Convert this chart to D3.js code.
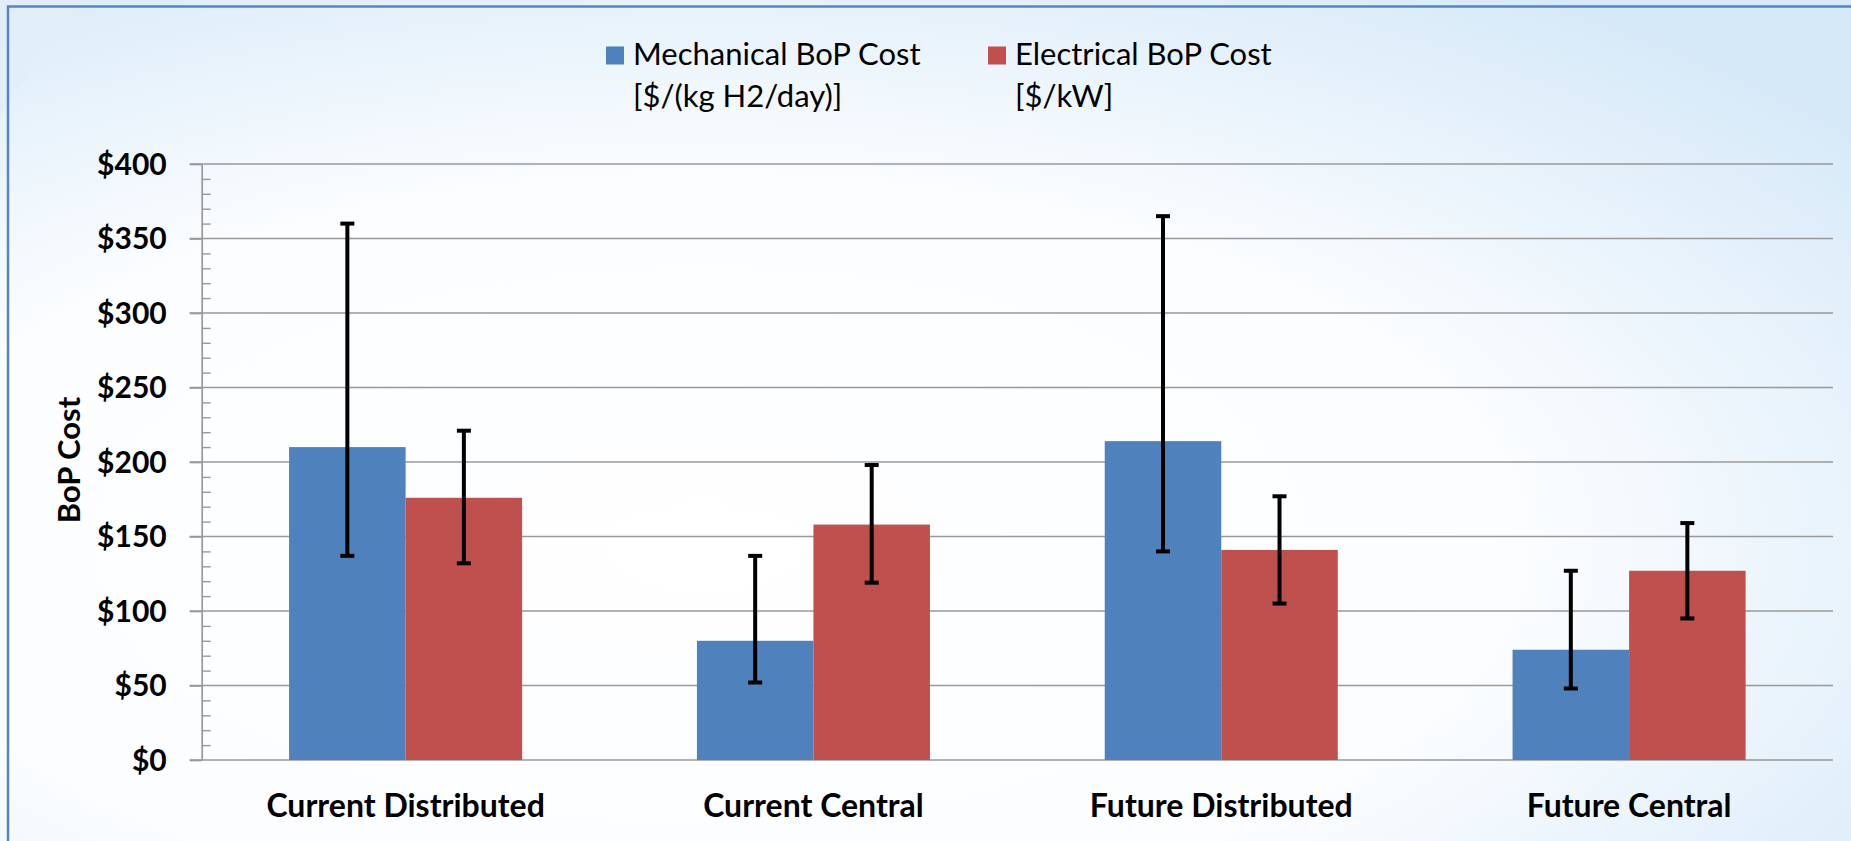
<!DOCTYPE html>
<html>
<head>
<meta charset="utf-8">
<script src="https://cdn.jsdelivr.net/npm/d3@7"></script>
<style>
  html, body { margin: 0; padding: 0; overflow: hidden; background: #ffffff; }
  svg { display: block; }
</style>
</head>
<body>
<div id="main"></div>
<script>
// chart values
var categories = ["Current Distributed", "Current Central", "Future Distributed", "Future Central"];
var seriesNames = ["Mechanical BoP Cost", "Electrical BoP Cost"];
var seriesUnits = ["[$/(kg H2/day)]", "[$/kW]"];
var mechanical = [210, 80, 214, 74];
var mechLow = [137, 52, 140, 48];
var mechHigh = [360, 137, 365, 127];
var electrical = [176, 158, 141, 127];
var elecLow = [132, 119, 105, 95];
var elecHigh = [221, 198, 177, 159];
var yTicks = [0, 50, 100, 150, 200, 250, 300, 350, 400];
var yMinorTicks = d3.range(0, 401, 10).filter(v => v % 50 != 0);

var ctx = {
    w: 1851,
    h: 841,
    left: 201.7,
    right: 1833,
    top: 164,
    bottom: 760,
    BLUE: "#4F81BD",
    RED: "#C0504D",
    GRID: "#999999",
    font: "Lato, 'Open Sans', sans-serif"
};

var buildRows = function(){
    // one row per category, one entry per series
    return categories.map(function(c, i){
        return {
            cat: c,
            bars: [
                {s: 0, v: mechanical[i], lo: mechLow[i], hi: mechHigh[i]},
                {s: 1, v: electrical[i], lo: elecLow[i], hi: elecHigh[i]}
            ]
        };
    });
};

var drawBackground = function(svg){
    var defs = svg.append("defs");
    var g = defs.append("radialGradient").attr("id", "bg")
        .attr("cx", "38%").attr("cy", "65%").attr("r", "80%");
    g.append("stop").attr("offset", "0%").attr("stop-color", "#ffffff");
    g.append("stop").attr("offset", "55%").attr("stop-color", "#fbfdff");
    g.append("stop").attr("offset", "100%").attr("stop-color", "#d6e9f8");
    svg.append("rect").attr("width", ctx.w).attr("height", ctx.h).attr("fill", "url(#bg)");
    // faint diagonal streak in the top-left corner
    svg.append("polygon").attr("points", "0,0 82,0 0,115")
        .attr("fill", "#e2edf8").attr("opacity", 0.85);
    // slide frame, cut off at right and bottom
    svg.append("rect").attr("x", 8).attr("y", 6.5)
        .attr("width", ctx.w + 20).attr("height", ctx.h + 20)
        .attr("fill", "none").attr("stroke", "#5585c2").attr("stroke-width", 2.5);
};

var drawChart = function(svg){
    var rows = buildRows();
    var colors = [ctx.BLUE, ctx.RED];

    var y = d3.scaleLinear().domain([0, 400]).range([ctx.bottom, ctx.top]);
    // gap width 150%: each bar is 2/7 of a category slot
    var x0 = d3.scaleBand().domain(categories).range([ctx.left, ctx.right])
        .paddingInner(3/7).paddingOuter(3/14);
    var x1 = d3.scaleBand().domain([0, 1]).range([0, x0.bandwidth()]);

    // gridlines
    svg.append("g").selectAll("line").data(yTicks).enter().append("line")
        .attr("x1", ctx.left - 12).attr("x2", ctx.right)
        .attr("y1", d => y(d)).attr("y2", d => y(d))
        .attr("stroke", ctx.GRID).attr("stroke-width", 1.7);

    // y axis with $ labels
    var yAxis = svg.append("g").attr("transform", "translate(" + ctx.left + ",0)")
        .call(d3.axisLeft(y).tickValues(yTicks).tickSizeInner(12).tickSizeOuter(0)
              .tickPadding(23).tickFormat(d => "$" + d));
    yAxis.select(".domain").attr("stroke", ctx.GRID).attr("stroke-width", 1.7);
    yAxis.selectAll(".tick line").attr("stroke", ctx.GRID).attr("stroke-width", 1.7);
    yAxis.selectAll("text").attr("font-family", ctx.font).attr("font-weight", "bold")
        .attr("font-size", 30).attr("fill", "#000").attr("dy", "0.34em");

    // minor ticks pointing inside
    var minor = svg.append("g").attr("transform", "translate(" + ctx.left + ",0)")
        .call(d3.axisRight(y).tickValues(yMinorTicks).tickSize(9).tickFormat(""));
    minor.select(".domain").remove();
    minor.selectAll(".tick line").attr("stroke", ctx.GRID).attr("stroke-width", 1.4);

    // bars
    var groups = svg.append("g").selectAll("g").data(rows).enter().append("g")
        .attr("transform", d => "translate(" + x0(d.cat) + ",0)");
    groups.selectAll("rect").data(d => d.bars).enter().append("rect")
        .attr("x", d => x1(d.s)).attr("width", x1.bandwidth())
        .attr("y", d => y(d.v)).attr("height", d => y(0) - y(d.v))
        .attr("fill", d => colors[d.s]);

    // error bars
    var capW = 14;
    var err = groups.selectAll("g.err").data(d => d.bars).enter().append("g")
        .attr("class", "err")
        .attr("transform", d => "translate(" + (x1(d.s) + x1.bandwidth() / 2) + ",0)");
    err.append("line").attr("x1", 0).attr("x2", 0)
        .attr("y1", d => y(d.lo)).attr("y2", d => y(d.hi))
        .attr("stroke", "#000").attr("stroke-width", 4);
    err.append("line").attr("x1", -capW / 2).attr("x2", capW / 2)
        .attr("y1", d => y(d.hi)).attr("y2", d => y(d.hi))
        .attr("stroke", "#000").attr("stroke-width", 4);
    err.append("line").attr("x1", -capW / 2).attr("x2", capW / 2)
        .attr("y1", d => y(d.lo)).attr("y2", d => y(d.lo))
        .attr("stroke", "#000").attr("stroke-width", 4);

    // category axis
    var xAxis = svg.append("g").attr("transform", "translate(0," + ctx.bottom + ")")
        .call(d3.axisBottom(x0).tickSize(0).tickPadding(34));
    xAxis.select(".domain").remove();
    xAxis.selectAll("text").attr("font-family", ctx.font).attr("font-weight", "bold")
        .attr("font-size", 32).attr("fill", "#000");

    // axis title
    svg.append("text").attr("transform", "translate(80,460) rotate(-90)")
        .attr("text-anchor", "middle").attr("font-family", ctx.font)
        .attr("font-weight", "bold").attr("font-size", 31).text("BoP Cost");

    // legend
    var legendX = [606, 988];
    var leg = svg.append("g").selectAll("g").data(seriesNames).enter().append("g")
        .attr("transform", (d, i) => "translate(" + legendX[i] + ",0)");
    leg.append("rect").attr("x", 0).attr("y", 46.5).attr("width", 18).attr("height", 18)
        .attr("fill", (d, i) => colors[i]);
    var lt = leg.append("text").attr("font-family", ctx.font).attr("font-size", 31)
        .attr("fill", "#000");
    lt.append("tspan").attr("x", 27).attr("y", 65).text(d => d);
    lt.append("tspan").attr("x", 27).attr("y", 107).text((d, i) => seriesUnits[i]);
};

var createViz = function(){
    var svgEl = d3.select("#main").append("svg")
        .attr("width", ctx.w).attr("height", ctx.h);
    drawBackground(svgEl);
    drawChart(svgEl);
};

createViz();
</script>
</body>
</html>
